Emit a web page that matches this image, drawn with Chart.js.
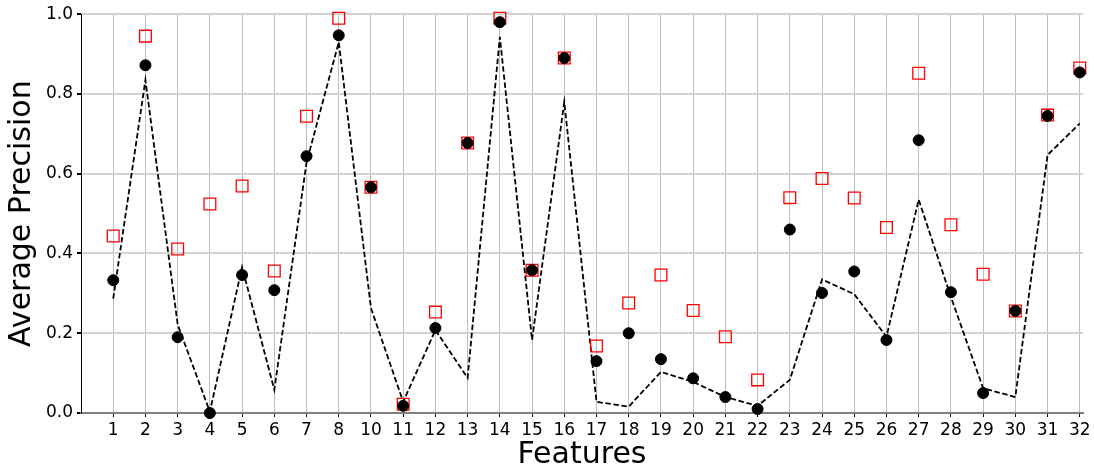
<!DOCTYPE html>
<html lang="en">
<head>
    <meta charset="UTF-8">
    <title>Average Precision by Feature</title>
    <script src="https://cdnjs.cloudflare.com/ajax/libs/Chart.js/4.4.1/chart.umd.min.js"></script>
    <style>
        body { margin: 0; background: #fff; }
        #wrap { width: 1094px; height: 473px; }
    </style>
</head>
<body>
    <div id="wrap"><canvas id="apChart" width="1094" height="473"></canvas></div>
    <script>
        // feature ids on the x axis (9 is not in the plot)
        const features = ['1', '2', '3', '4', '5', '6', '7', '8', '10', '11', '12', '13', '14', '15', '16',
            '17', '18', '19', '20', '21', '22', '23', '24', '25', '26', '27', '28', '29', '30', '31', '32'];

        // red open squares
        const squareValues = [0.444, 0.945, 0.411, 0.524, 0.569, 0.356, 0.744, 0.99, 0.566, 0.022, 0.253,
            0.677, 0.99, 0.358, 0.89, 0.168, 0.276, 0.346, 0.257, 0.191, 0.083, 0.540, 0.588, 0.539,
            0.465, 0.852, 0.472, 0.348, 0.256, 0.747, 0.865];

        // black filled circles
        const circleValues = [0.333, 0.872, 0.19, 0.0, 0.346, 0.308, 0.644, 0.947, 0.566, 0.018, 0.213,
            0.677, 0.98, 0.358, 0.89, 0.13, 0.2, 0.135, 0.087, 0.04, 0.01, 0.46, 0.301, 0.355,
            0.183, 0.684, 0.303, 0.05, 0.256, 0.745, 0.854];

        // black dashed line
        const dashedValues = [0.287, 0.835, 0.222, 0.003, 0.366, 0.058, 0.628, 0.93, 0.263, 0.028, 0.208,
            0.088, 0.943, 0.183, 0.78, 0.028, 0.016, 0.103, 0.078, 0.04, 0.018, 0.083, 0.335, 0.298,
            0.191, 0.535, 0.291, 0.062, 0.04, 0.647, 0.726];

        const yTicks = [0, 0.2, 0.4, 0.6, 0.8, 1.0];

        const toPoints = vals => vals.map((v, i) => ({ x: i + 1, y: v }));

        Chart.defaults.font.family = 'DejaVu Sans';
        Chart.defaults.color = '#000';

        new Chart(document.getElementById('apChart').getContext('2d'), {
            type: 'line',
            data: {
                datasets: [
                    {
                        data: toPoints(circleValues),
                        showLine: false,
                        pointStyle: 'circle',
                        pointRadius: 5.5,
                        pointBackgroundColor: '#000',
                        pointBorderColor: '#000',
                        pointBorderWidth: 1,
                        clip: false,
                        order: 0
                    },
                    {
                        data: toPoints(squareValues),
                        showLine: false,
                        pointStyle: 'rect',
                        pointRadius: 8.3,
                        pointBackgroundColor: 'rgba(0,0,0,0)',
                        pointBorderColor: '#ff0000',
                        pointBorderWidth: 1.3,
                        clip: false,
                        order: 1
                    },
                    {
                        data: toPoints(dashedValues),
                        borderColor: '#000',
                        borderWidth: 1.8,
                        borderDash: [5.5, 2.6],
                        pointRadius: 0,
                        tension: 0,
                        fill: false,
                        clip: false,
                        order: 2
                    }
                ]
            },
            options: {
                responsive: false,
                animation: false,
                layout: { padding: { left: 0, right: 11, top: 14, bottom: 0 } },
                plugins: { legend: { display: false }, tooltip: { enabled: false } },
                scales: {
                    x: {
                        type: 'linear',
                        min: 0,
                        max: 31.1,
                        afterBuildTicks: scale => {
                            scale.ticks = features.map((f, i) => ({ value: i + 1 }));
                        },
                        afterFit: scale => { scale.height = 60; },
                        ticks: {
                            autoSkip: false,
                            maxRotation: 0,
                            padding: 3,
                            font: { size: 17 },
                            callback: v => features[v - 1]
                        },
                        grid: { color: '#bdbdbd', lineWidth: 1, tickColor: '#000', tickLength: 4 },
                        border: { color: '#808080', width: 2 },
                        title: {
                            display: true,
                            text: 'Features',
                            font: { size: 30 },
                            padding: { top: 0, bottom: 0 }
                        }
                    },
                    y: {
                        min: 0,
                        max: 1,
                        afterBuildTicks: scale => {
                            scale.ticks = yTicks.map(v => ({ value: v }));
                        },
                        afterFit: scale => { scale.width = 81; },
                        ticks: {
                            padding: 4,
                            font: { size: 17 },
                            callback: v => v.toFixed(1)
                        },
                        grid: { color: '#d3d3d3', lineWidth: 2, tickColor: '#000', tickLength: 4 },
                        border: { color: '#000', width: 1 },
                        title: {
                            display: true,
                            text: 'Average Precision',
                            font: { size: 30 },
                            padding: { top: 4, bottom: 4 }
                        }
                    }
                }
            }
        });
    </script>
</body>
</html>
